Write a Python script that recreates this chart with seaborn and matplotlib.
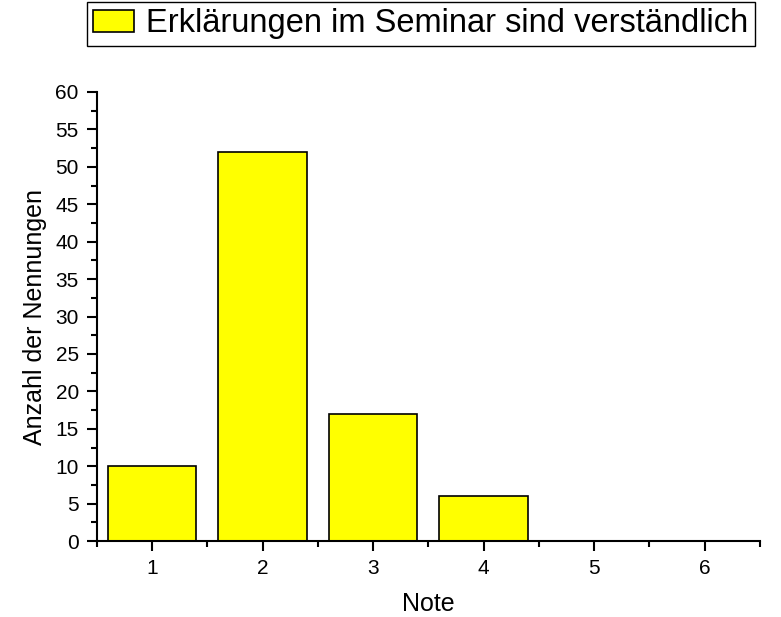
import matplotlib
matplotlib.use("Agg")
import matplotlib.pyplot as plt
import seaborn as sns
import pandas as pd
from matplotlib.ticker import MultipleLocator

# Data
noten = [1, 2, 3, 4, 5, 6]
nennungen = [10, 52, 17, 6, 0, 0]
label = "Erklärungen im Seminar sind verständlich"

df = pd.DataFrame({"Note": noten, "Anzahl": nennungen})

sns.set_style("ticks")
plt.rcParams['font.family'] = ['Liberation Sans', 'DejaVu Sans']
plt.rcParams['text.color'] = 'black'
plt.rcParams['axes.labelcolor'] = 'black'
plt.rcParams['xtick.color'] = 'black'
plt.rcParams['ytick.color'] = 'black'

fig = plt.figure(figsize=(7.81, 6.17), dpi=100)
ax = fig.add_axes([0.124, 0.123, 0.849, 0.728])

sns.barplot(data=df, x="Note", y="Anzahl", native_scale=True, width=0.8,
            color="#ffff00", saturation=1, edgecolor="black", linewidth=1.2,
            label=label, ax=ax)

ax.set_xlim(0.5, 6.5)
ax.set_ylim(0, 60)
ax.xaxis.set_major_locator(MultipleLocator(1))
ax.xaxis.set_minor_locator(MultipleLocator(0.5))
ax.yaxis.set_major_locator(MultipleLocator(5))
ax.yaxis.set_minor_locator(MultipleLocator(2.5))
ax.tick_params(which="major", direction="out", length=7, width=1.5, labelsize=15,
               color="black", pad=6)
ax.tick_params(which="minor", direction="out", length=4, width=1.5, color="black")
ax.set_xlabel("Note", fontsize=18, labelpad=10)
ax.set_ylabel("Anzahl der Nennungen", fontsize=18, labelpad=6)
for s in ["top", "right"]:
    ax.spines[s].set_visible(False)
for s in ["left", "bottom"]:
    ax.spines[s].set_linewidth(1.5)
    ax.spines[s].set_color("black")

if ax.get_legend():
    ax.get_legend().remove()
handles, labels = ax.get_legend_handles_labels()
leg = fig.legend(handles[:1], labels[:1], loc="upper left", bbox_to_anchor=(0.111, 0.997),
                 fontsize=23.5, fancybox=False, framealpha=1, edgecolor="black",
                 handlelength=1.26, handleheight=0.7, borderpad=0.2, handletextpad=0.37,
                 borderaxespad=0)
leg.get_frame().set_linewidth(1.0)

fig.savefig("out.png", dpi=100)
